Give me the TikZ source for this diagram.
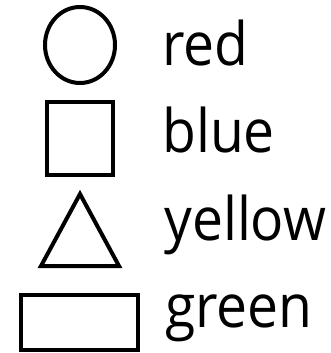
\documentclass[tikz,border=0pt]{standalone}
\usepackage{fontspec}
\setmainfont{Open Sans}
\usepackage{graphicx}
\usepackage{tikz}
\usetikzlibrary{shapes.geometric}

\newcommand{\narrowtext}[1]{\scalebox{0.92}[1]{#1}}

\begin{document}
\begin{tikzpicture}[
    x=0.75pt, y=-0.75pt,
    shape line/.style={draw, line width=3pt, inner sep=0pt},
    label text/.style={anchor=base west, inner sep=0pt, font=\fontsize{45}{54}\selectfont}
]
\useasboundingbox (0,0) rectangle (330,353);

% Shapes (left column)
\node[shape line, ellipse, minimum width=52.5pt, minimum height=57pt] (circ) at (80,45) {};
\node[shape line, rectangle, minimum width=49.5pt, minimum height=54.75pt] (sq) at (80,138.5) {};
\coordinate (tritop) at (80,194);
\coordinate (trileft) at (41,266);
\coordinate (triright) at (119,266);
\draw[line width=3pt, line join=miter] (tritop) -- (triright) -- (trileft) -- cycle;
\node[shape line, rectangle, minimum width=87.75pt, minimum height=41.25pt] (rect) at (79.5,322.5) {};

% Colour names (right column)
\node[label text] (red) at (162,65) {\narrowtext{red}};
\node[label text] (blue) at (162,152) {\narrowtext{blue}};
\node[label text] (yellow) at (164,240) {\narrowtext{yellow}};
\node[label text] (green) at (165,327) {\narrowtext{green}};

\end{tikzpicture}
\end{document}
